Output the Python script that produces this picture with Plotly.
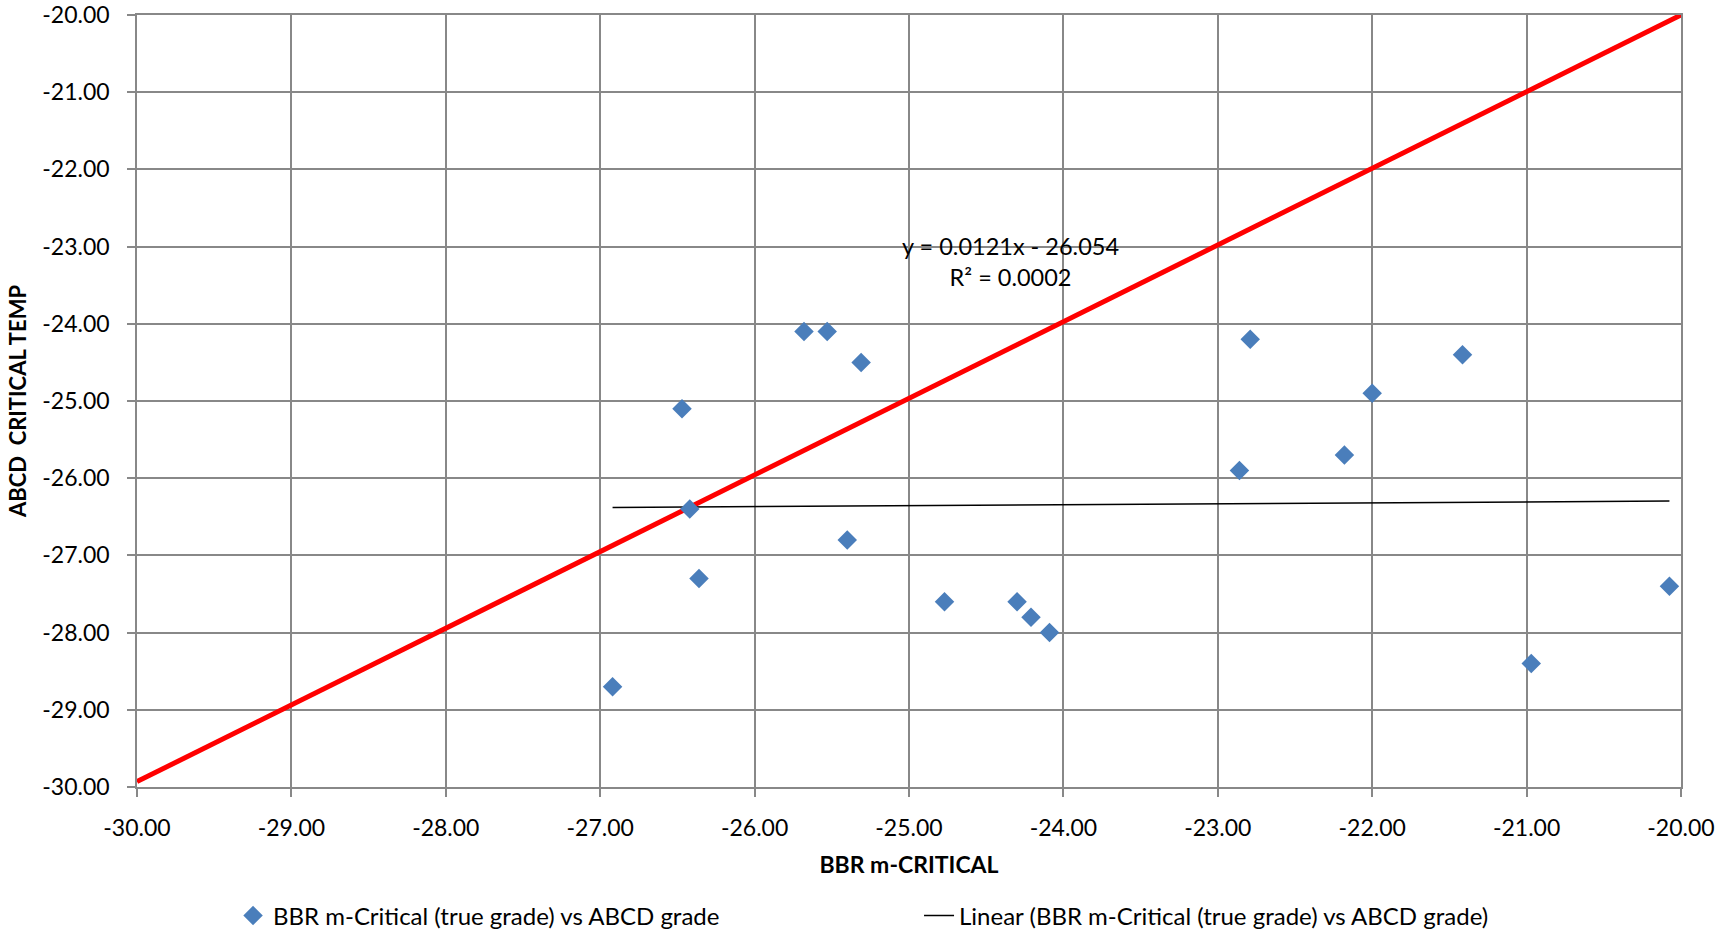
import plotly.graph_objects as go

# BBR m-critical (true grade) vs ABCD critical temperature
bbr_m_critical = [-26.92, -26.47, -26.42, -26.36, -25.68, -25.53, -25.40, -25.31,
                  -24.77, -24.30, -24.21, -24.09, -22.86, -22.79, -22.18, -22.00,
                  -21.415, -20.97, -20.075]
abcd_critical = [-28.7, -25.1, -26.4, -27.3, -24.1, -24.1, -26.8, -24.5,
                 -27.6, -27.6, -27.8, -28.0, -25.9, -24.2, -25.7, -24.9,
                 -24.4, -28.4, -27.4]

# Linear trendline coefficients (y = slope*x + intercept)
trend_slope = 0.0121
trend_intercept = -26.054
trend_r2 = 0.0002

# Reference equality line
ref_x = [-30.0, -20.0]
ref_y = [-29.93, -20.0]

axis_ticks = [-30, -29, -28, -27, -26, -25, -24, -23, -22, -21, -20]
tick_text = [f"{v:.2f}" for v in axis_ticks]

trend_x = [min(bbr_m_critical), max(bbr_m_critical)]
trend_y = [trend_slope * v + trend_intercept for v in trend_x]

FONT = "Lato"
GRID = "#888888"

fig = go.Figure()

fig.add_trace(go.Scatter(
    x=ref_x, y=ref_y, mode="lines",
    line=dict(color="#FF0000", width=5),
    showlegend=False, hoverinfo="skip",
))

fig.add_trace(go.Scatter(
    x=trend_x, y=trend_y, mode="lines",
    line=dict(color="#000000", width=1.5),
    name="Linear (BBR m-Critical (true grade) vs ABCD grade)",
    legend="legend2",
))

fig.add_trace(go.Scatter(
    x=bbr_m_critical, y=abcd_critical, mode="markers",
    marker=dict(symbol="diamond", size=15, color="#4A7EBB", line=dict(width=0)),
    name="BBR m-Critical (true grade) vs ABCD grade",
    legend="legend",
))

fig.add_annotation(
    x=-24.34, y=-23.19, xref="x", yref="y",
    text=f"y = {trend_slope}x - {abs(trend_intercept)}<br>R² = {trend_r2:.4f}",
    showarrow=False, align="center",
    font=dict(family=FONT, size=23.5, color="#000000"),
)

axis_common = dict(
    range=[-30, -20],
    tickvals=axis_ticks,
    ticktext=tick_text,
    showgrid=True, gridcolor=GRID, gridwidth=1.5,
    showline=True, linecolor=GRID, linewidth=1.5,
    ticks="outside", ticklen=8, tickcolor=GRID, tickwidth=1.5,
    tickfont=dict(family=FONT, size=23, color="#000000"),
    zeroline=False,
    mirror=True,
)

fig.update_xaxes(
    **axis_common,
    title=dict(text="<b>BBR m-CRITICAL</b>", font=dict(family=FONT, size=23, color="#000000"),
               standoff=17),
    ticklabelstandoff=12,
)
fig.update_yaxes(
    **axis_common,
    title=dict(text="<b>ABCD  CRITICAL TEMP</b>", font=dict(family=FONT, size=22, color="#000000"),
               standoff=10),
    ticklabelstandoff=13,
)

legend_font = dict(family=FONT, size=24, color="#000000")
fig.update_layout(
    width=1734, height=933,
    margin=dict(l=137, r=53, t=15, b=146, autoexpand=False),
    paper_bgcolor="#FFFFFF", plot_bgcolor="#FFFFFF",
    legend=dict(x=0.0622, y=-0.167, xanchor="left", yanchor="middle",
                orientation="h", font=legend_font, bgcolor="rgba(0,0,0,0)"),
    legend2=dict(x=0.5065, y=-0.167, xanchor="left", yanchor="middle",
                 orientation="h", font=legend_font, bgcolor="rgba(0,0,0,0)"),
)

fig.write_html("out.html")
